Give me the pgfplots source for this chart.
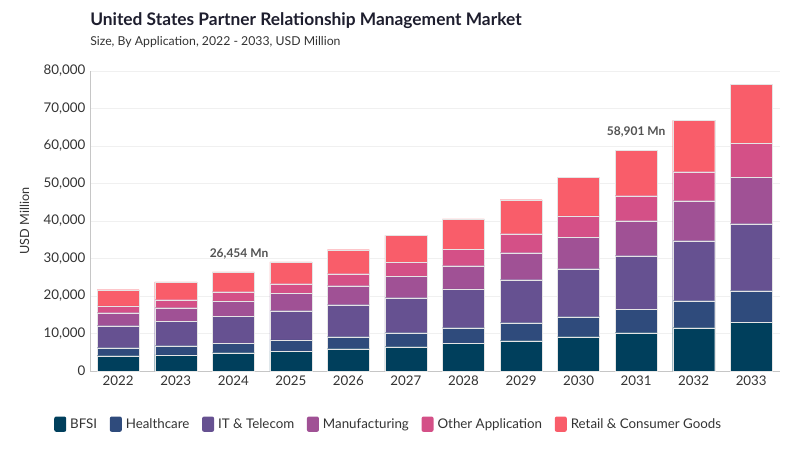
\documentclass[border=0pt]{standalone}
\usepackage{pgfplots}
\pgfplotsset{compat=1.18}
\usepackage{fontspec}
\setmainfont{Lato}
\definecolor{cBFSI}{HTML}{003F5C}
\definecolor{cHealth}{HTML}{2F4B7C}
\definecolor{cIT}{HTML}{665191}
\definecolor{cManu}{HTML}{A05195}
\definecolor{cOther}{HTML}{D45087}
\definecolor{cRetail}{HTML}{F95D6A}
\definecolor{txt}{HTML}{333333}
\definecolor{ttl}{HTML}{1E1E2E}
\begin{document}
\begin{tikzpicture}
\path[use as bounding box] (0pt,0pt) rectangle (600pt,337.5pt);
\node[anchor=base west, font=\bfseries\fontsize{13}{15}\selectfont, text=ttl, inner sep=0] at (67.5pt,318pt) {United States Partner Relationship Management Market};
\node[anchor=base west, font=\fontsize{9.2}{11}\selectfont, text=txt, inner sep=0] at (67.5pt,303pt) {Size, By Application, 2022 - 2033, USD Million};
\begin{axis}[
  at={(67.5pt,59.25pt)}, anchor=south west,
  scale only axis,
  width=517.5pt, height=225pt,
  ybar stacked,
  bar width=0.73,
  xmin=-0.49, xmax=11.5,
  ymin=0, ymax=80000,
  xtick=data,
  xticklabels={2022,2023,2024,2025,2026,2027,2028,2029,2030,2031,2032,2033},
  ytick={0,10000,...,80000},
  scaled y ticks=false,
  yticklabel style={/pgf/number format/.cd,1000 sep={,},assume math mode=true},
  tick label style={font=\fontsize{10}{12}\selectfont, text=txt},
  major tick length=0pt,
  ymajorgrids,
  grid style={gray!12, line width=0.6pt},
  axis x line*=bottom,
  axis y line*=left,
  axis line style={gray!45, line width=0.7pt},
  ylabel={USD Million},
  ylabel shift=4pt,
  ylabel style={font=\fontsize{9.5}{11}\selectfont, text=txt},
  every axis plot/.append style={draw=white!80!gray, line width=0.15pt},
  legend columns=6,
  legend style={at={(-0.058,-0.14)}, anchor=north west, draw=none, fill=none,
    font=\fontsize{10}{12}\selectfont, text=txt,
    /tikz/every even column/.append style={column sep=7.5pt},
    /tikz/every odd column/.append style={column sep=1pt}},
  legend image code/.code={\fill[#1, draw=none, rounded corners=1.5pt] (0pt,-5.5pt) rectangle (9pt,6pt);},
]
\addplot[fill=cBFSI] coordinates {(0,4080) (1,4270) (2,4890) (3,5330) (4,5950) (5,6480) (6,7390) (7,8080) (8,9150) (9,10220) (10,11550) (11,12990)};
\addlegendentry{BFSI}
\addplot[fill=cHealth] coordinates {(0,2130) (1,2480) (2,2500) (3,2940) (4,3200) (5,3730) (6,4160) (7,4800) (8,5340) (9,6230) (10,7200) (11,8430)};
\addlegendentry{Healthcare}
\addplot[fill=cIT] coordinates {(0,5870) (1,6500) (2,7200) (3,7810) (4,8530) (5,9340) (6,10320) (7,11470) (8,12800) (9,14310) (10,16000) (11,17870)};
\addlegendentry{IT \& Telecom}
\addplot[fill=cManu] coordinates {(0,3470) (1,3640) (2,4080) (3,4640) (4,5070) (5,5710) (6,6210) (7,7200) (8,8360) (9,9330) (10,10670) (11,12360)};
\addlegendentry{Manufacturing}
\addplot[fill=cOther] coordinates {(0,1850) (1,2130) (2,2480) (3,2560) (4,3200) (5,3730) (6,4380) (7,5070) (8,5690) (9,6670) (10,7740) (11,9070)};
\addlegendentry{Other Application}
\addplot[fill=cRetail] coordinates {(0,4300) (1,4720) (2,5304) (3,5790) (4,6400) (5,7200) (6,8080) (7,9070) (8,10310) (9,12141) (10,13690) (11,15740)};
\addlegendentry{Retail \& Consumer Goods}
\node[font=\bfseries\fontsize{9}{11}\selectfont, text=txt!85, anchor=south] at (axis cs:2.1,26454) [yshift=6pt] {26,454 Mn};
\node[font=\bfseries\fontsize{9}{11}\selectfont, text=txt!85, anchor=south] at (axis cs:9,58901) [yshift=6pt] {58,901 Mn};
\end{axis}
\end{tikzpicture}
\end{document}
